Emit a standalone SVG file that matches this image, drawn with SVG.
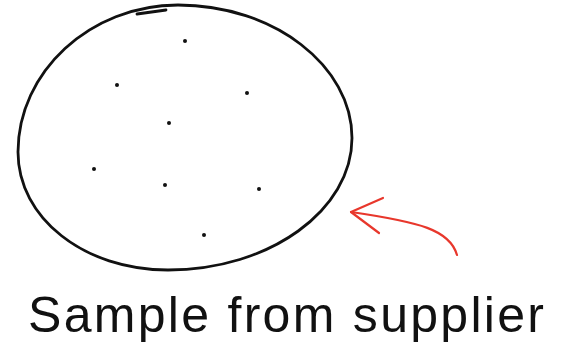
<svg xmlns="http://www.w3.org/2000/svg" width="563" height="350" viewBox="0 0 563 350">
<style>
.outline{fill:none;stroke:#111;stroke-width:2.8;stroke-linecap:round;stroke-linejoin:round}
.dot{fill:#111}
.arrow{fill:none;stroke:#e8372c;stroke-width:2.2;stroke-linecap:round;stroke-linejoin:round}
.label{font-family:"Liberation Sans",Arial,sans-serif;font-size:50px;fill:#111}
</style>
<rect width="563" height="350" fill="#fff"/>
<g id="sample">
<path class="outline" d="M178 5 C274 5 352 66 352 138 C352 210 270 270 168 270 C84 270 18 218 18 152 C18 72 90 5 178 5 Z"/>
<path class="outline" d="M137 14 L166 10"/>
<circle class="dot" cx="185" cy="41" r="2"/>
<circle class="dot" cx="117" cy="85" r="2"/>
<circle class="dot" cx="247" cy="93" r="2"/>
<circle class="dot" cx="169" cy="123" r="2"/>
<circle class="dot" cx="94" cy="169" r="2"/>
<circle class="dot" cx="165" cy="185" r="2"/>
<circle class="dot" cx="259" cy="189" r="2"/>
<circle class="dot" cx="204" cy="235" r="2"/>
</g>
<g id="connectors">
<path class="arrow" d="M457 255 C450 230 420 222 351 212"/>
<path class="arrow" d="M383 198 L351 212 L379 233"/>
</g>
<g id="label">
<text class="label" x="28" y="332" textLength="516" lengthAdjust="spacing">Sample from supplier</text>
</g>
</svg>
